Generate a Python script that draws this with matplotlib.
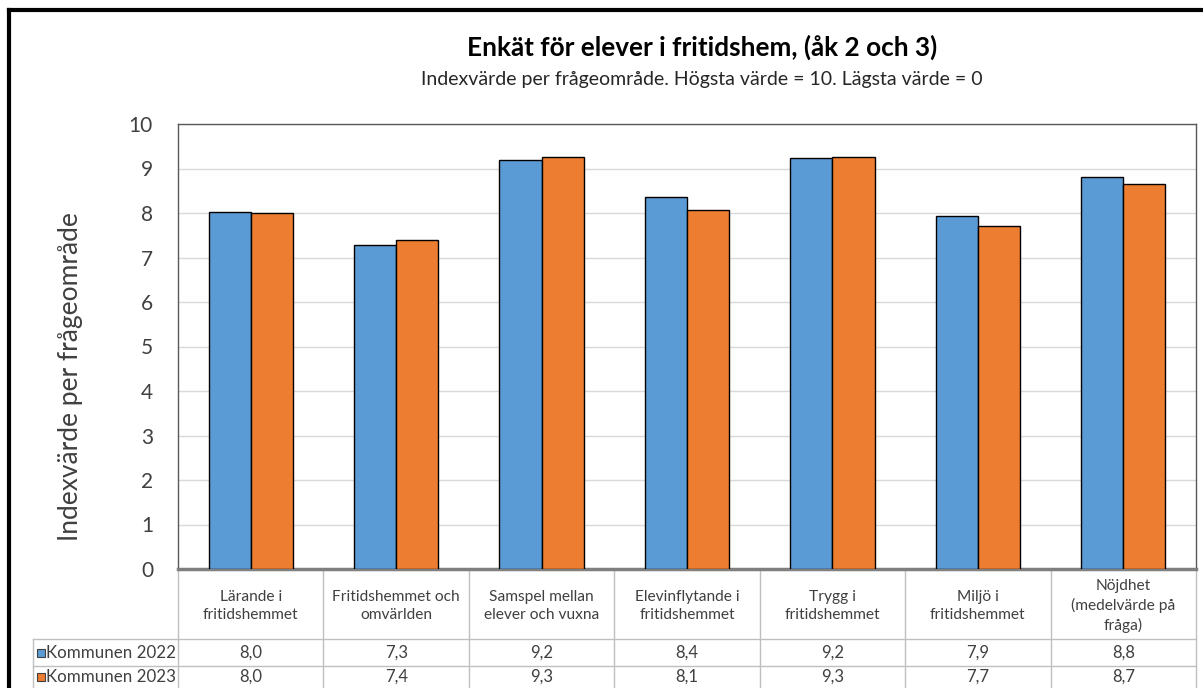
import matplotlib.pyplot as plt
import numpy as np
from matplotlib.transforms import blended_transform_factory
from matplotlib.patches import Rectangle

plt.rcParams['font.family'] = ['Lato', 'DejaVu Sans']

# data
kategorier = ["Lärande i\nfritidshemmet", "Fritidshemmet och\nomvärlden",
              "Samspel mellan\nelever och vuxna", "Elevinflytande i\nfritidshemmet",
              "Trygg i\nfritidshemmet", "Miljö i\nfritidshemmet",
              "Nöjdhet\n(medelvärde på\nfråga)"]
serier = ["Kommunen 2022", "Kommunen 2023"]
varden_2022 = [8.02, 7.27, 9.19, 8.37, 9.23, 7.93, 8.82]
varden_2023 = [7.99, 7.39, 9.26, 8.07, 9.26, 7.70, 8.66]
farger = ["#5B9BD5", "#ED7D31"]

W, H = 1203, 688
fig = plt.figure(figsize=(W / 100, H / 100), dpi=100)

def fy(py):
    # pixel y (från toppen) -> figurkoordinat
    return 1 - py / H

def fx(px):
    return px / W

ax = fig.add_axes([fx(178), fy(569), fx(1196) - fx(178), fy(124) - fy(569)])
x = np.arange(len(kategorier))
bw = 0.29
ax.bar(x - bw / 2, varden_2022, bw, color=farger[0], edgecolor="black", linewidth=1, zorder=3)
ax.bar(x + bw / 2, varden_2023, bw, color=farger[1], edgecolor="black", linewidth=1, zorder=3)

ax.set_xlim(-0.5, len(kategorier) - 0.5)
ax.set_ylim(0, 10)
ax.set_yticks(range(0, 11))
ax.set_xticks([])
ax.tick_params(axis='y', length=0, pad=18, labelsize=15, labelcolor="#404040")
ax.grid(axis='y', color="#D9D9D9", linewidth=1, zorder=0)
for s in ["top", "right", "left"]:
    ax.spines[s].set_color("#595959")
    ax.spines[s].set_linewidth(1)
ax.spines["bottom"].set_color("#7F7F7F")
ax.spines["bottom"].set_linewidth(2.5)
ax.set_ylabel("Indexvärde per frågeområde", fontsize=19, color="#404040")
ax.yaxis.set_label_coords((83 - 178) / 1018, (569 - 377) / 445)

# titel
fig.text(fx(702), fy(47), "Enkät för elever i fritidshem, (åk 2 och 3)",
         ha="center", va="center", fontsize=18.8, fontweight="bold", color="black")
fig.text(fx(702), fy(79), "Indexvärde per frågeområde. Högsta värde = 10. Lägsta värde = 0",
         ha="center", va="center", fontsize=14, color="#262626")

# yttre ram (vänster och topp)
fig.add_artist(plt.Line2D([fx(9), fx(9)], [fy(10), 0], color="black", linewidth=3))
fig.add_artist(plt.Line2D([fx(9), 1], [fy(10), fy(10)], color="black", linewidth=3))

# datatabell
tr = blended_transform_factory(ax.transData, fig.transFigure)
linjefarg = "#BFBFBF"
rad1, rad2, botten = 639, 666, 690
for k in range(len(kategorier) + 1):
    ax.add_line(plt.Line2D([k - 0.5, k - 0.5], [fy(569), 0], transform=tr,
                           color=linjefarg, linewidth=1, clip_on=False))
for py in (rad1, rad2):
    fig.add_artist(plt.Line2D([fx(33), fx(1196)], [fy(py), fy(py)], color=linjefarg, linewidth=1))
fig.add_artist(plt.Line2D([fx(33), fx(33)], [fy(rad1), 0], color=linjefarg, linewidth=1))

for i, kat in enumerate(kategorier):
    ax.text(i, fy(606), kat, transform=tr, ha="center", va="center",
            fontsize=11.2, color="#404040", linespacing=1.38)
    ax.text(i, fy((rad1 + rad2) / 2), f"{varden_2022[i]:.1f}".replace(".", ","),
            transform=tr, ha="center", va="center", fontsize=12, color="#404040")
    ax.text(i, fy((rad2 + botten) / 2 - 1), f"{varden_2023[i]:.1f}".replace(".", ","),
            transform=tr, ha="center", va="center", fontsize=12, color="#404040")

for j, (namn, yy) in enumerate(zip(serier, [(rad1 + rad2) / 2, (rad2 + botten) / 2 - 1])):
    fig.add_artist(Rectangle((fx(37), fy(yy + 4)), fx(8), 8 / H, facecolor=farger[j],
                             edgecolor="#404040", linewidth=0.8))
    fig.text(fx(46), fy(yy), namn, ha="left", va="center", fontsize=12.2, color="#404040")

fig.savefig("out.png", dpi=100)
